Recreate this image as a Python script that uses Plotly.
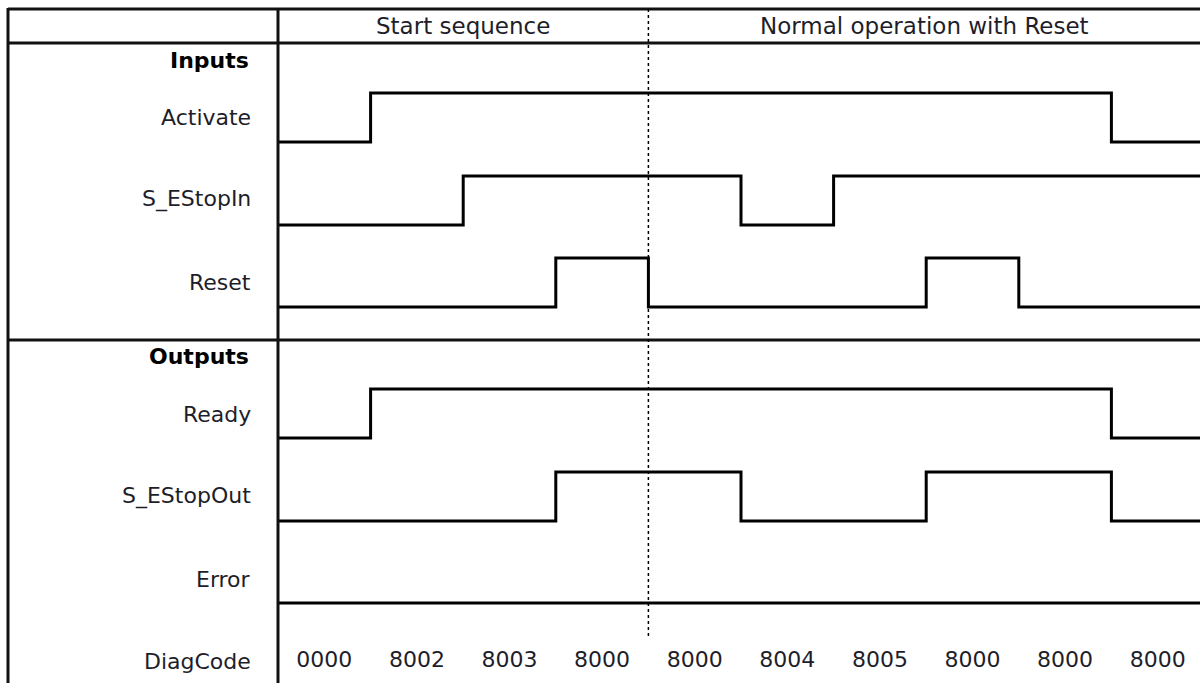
import plotly.graph_objects as go

# ---- data ----
times = list(range(11))  # interval boundaries (steps)
signals = ["Activate", "S_EStopIn", "Reset", "Ready", "S_EStopOut", "Error"]
activate = [0, 1, 1, 1, 1, 1, 1, 1, 1, 0]
s_estop_in = [0, 0, 1, 1, 1, 0, 1, 1, 1, 1]
reset = [0, 0, 0, 1, 0, 0, 0, 1, 0, 0]
ready = [0, 1, 1, 1, 1, 1, 1, 1, 1, 0]
s_estop_out = [0, 0, 0, 1, 1, 0, 0, 1, 1, 0]
error = [0, 0, 0, 0, 0, 0, 0, 0, 0, 0]
diag_codes = ["0000", "8002", "8003", "8000", "8000", "8004", "8005", "8000", "8000", "8000"]
phases = ["Start sequence", "Normal operation with Reset"]
phase_bounds = [0, 4, 10]
group_labels = ["Inputs", "Outputs"]

levels = [activate, s_estop_in, reset, ready, s_estop_out, error]

# ---- layout geometry (pixel-like y units) ----
W, H = 1200, 683
X0_PX, STEP_PX = 278, 92.6
xmin = -X0_PX / STEP_PX
xmax = (W - X0_PX) / STEP_PX
row_low = [142, 225, 307, 438, 521, 603]
amp = 49
label_y = [117, 199, 282, 414, 496, 579]
group_y = [60, 356]
diag_y = 661
font = "DejaVu Sans"
fs = 22
tcol = "#1e1e2a"

fig = go.Figure()
for name, lv, low in zip(signals, levels, row_low):
    ys = [low - amp * v for v in lv] + [low - amp * lv[-1]]
    fig.add_trace(go.Scatter(x=times, y=ys, mode="lines", line_shape="hv",
                             line=dict(color="#000", width=3), name=name,
                             showlegend=False, hoverinfo="skip"))

fig.add_trace(go.Scatter(x=[t + 0.5 for t in times[:-1]], y=[diag_y] * len(diag_codes),
                         mode="text", text=diag_codes,
                         textfont=dict(family=font, size=fs, color=tcol),
                         showlegend=False, hoverinfo="skip"))

def px2x(px):
    return xmin + px / STEP_PX

shapes = []
lc = "#111"
# table lines
shapes.append(dict(type="line", xref="x", yref="y", x0=px2x(8), x1=xmax, y0=9, y1=9, line=dict(color=lc, width=3)))
shapes.append(dict(type="line", xref="x", yref="y", x0=px2x(8), x1=xmax, y0=43, y1=43, line=dict(color=lc, width=3)))
shapes.append(dict(type="line", xref="x", yref="y", x0=px2x(8), x1=xmax, y0=340, y1=340, line=dict(color=lc, width=3)))
shapes.append(dict(type="line", xref="x", yref="y", x0=px2x(8), x1=px2x(8), y0=8, y1=H, line=dict(color=lc, width=3)))
shapes.append(dict(type="line", xref="x", yref="y", x0=0, x1=0, y0=8, y1=H, line=dict(color=lc, width=3)))
# phase divider
shapes.append(dict(type="line", xref="x", yref="y", x0=phase_bounds[1], x1=phase_bounds[1], y0=9, y1=637,
                   line=dict(color="#000", width=1.5, dash="dot")))

ann = []
for i, ph in enumerate(phases):
    a, b = phase_bounds[i], min(phase_bounds[i + 1], xmax)
    ann.append(dict(x=(a + b) / 2, y=26, xref="x", yref="y", text=ph, showarrow=False,
                    font=dict(family=font, size=fs + 1, color=tcol)))
for g, gy in zip(group_labels, group_y):
    ann.append(dict(x=px2x(251), y=gy, xref="x", yref="y", text="<b>" + g + "</b>", showarrow=False,
                    xanchor="right", font=dict(family=font, size=fs, color="#000")))
for name, ly in zip(signals + ["DiagCode"], label_y + [diag_y]):
    ann.append(dict(x=px2x(253), y=ly, xref="x", yref="y", text=name, showarrow=False,
                    xanchor="right", font=dict(family=font, size=fs, color=tcol)))

fig.update_layout(width=W, height=H, margin=dict(l=0, r=0, t=0, b=0),
                  paper_bgcolor="white", plot_bgcolor="white",
                  xaxis=dict(range=[xmin, xmax], visible=False, fixedrange=True),
                  yaxis=dict(range=[H, 0], visible=False, fixedrange=True),
                  shapes=shapes, annotations=ann)
fig.write_html("out.html", config={"displayModeBar": False},
               post_script="document.body.style.margin='0';document.body.style.overflow='hidden';")
